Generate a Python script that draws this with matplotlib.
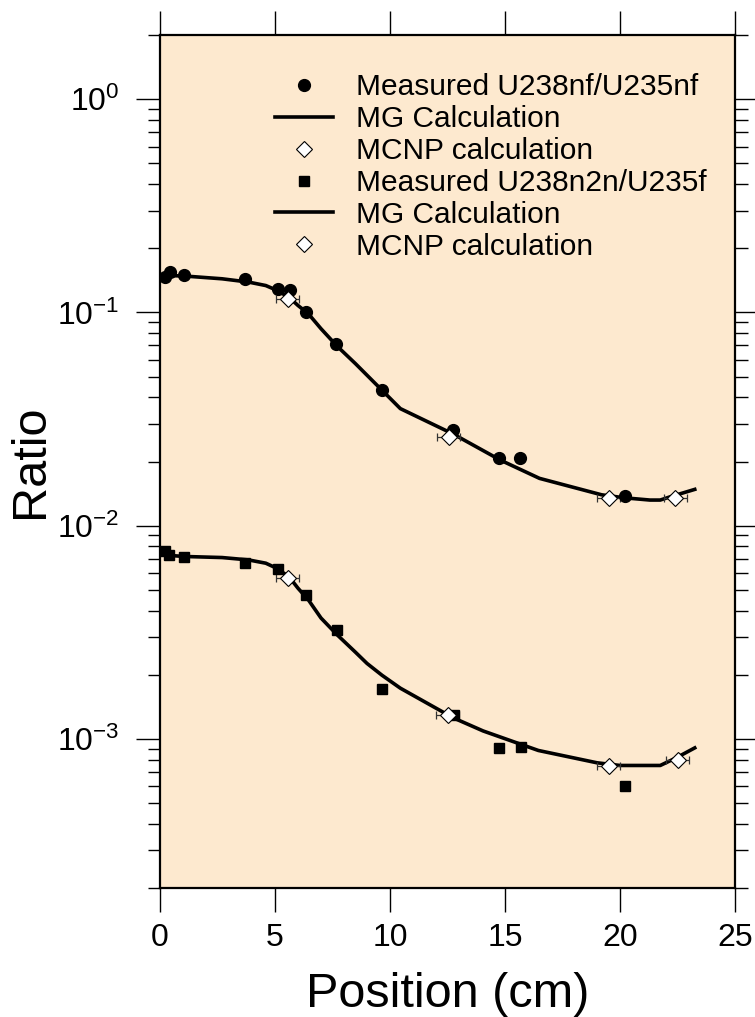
import matplotlib
matplotlib.use("Agg")
import matplotlib.pyplot as plt
from matplotlib.ticker import LogLocator, LogFormatterSciNotation, NullFormatter

# ---- data ----
pos_nf = [0.2, 0.45, 1.05, 3.7, 5.15, 5.65, 6.35, 7.65, 9.65, 12.75, 14.75, 15.65, 20.2]
meas_nf = [0.147, 0.154, 0.150, 0.143, 0.129, 0.128, 0.101, 0.0709, 0.0431, 0.0280, 0.0207, 0.0207, 0.0138]

mg_x_nf = [0, 1.1, 2.7, 3.85, 4.6, 5.0, 5.6, 6.0, 6.45, 7.0, 7.7, 8.5, 9.65, 10.45,
           12.75, 14.8, 16.5, 19.2, 20.2, 21.3, 21.75, 22.2, 23.25]
mg_nf = [0.1494, 0.1481, 0.1438, 0.1388, 0.1337, 0.1281, 0.118, 0.1078, 0.0986, 0.0839,
         0.0695, 0.0575, 0.0432, 0.0354, 0.0269, 0.0203, 0.01667, 0.01396, 0.01351,
         0.01319, 0.01319, 0.01368, 0.0148]

mcnp_x_nf = [5.55, 12.55, 19.5, 22.4]
mcnp_nf = [0.116, 0.0261, 0.01343, 0.01343]

pos_n2n = [0.2, 0.4, 1.05, 3.7, 5.15, 6.35, 7.7, 9.65, 12.8, 14.75, 15.7, 20.2]
meas_n2n = [0.0076, 0.0073, 0.0071, 0.00667, 0.00627, 0.00474, 0.00323, 0.00171,
            0.00129, 0.000908, 0.000916, 0.000601]

mg_x_n2n = [0, 1.1, 2.7, 3.85, 4.6, 5.0, 5.6, 6.0, 6.45, 7.0, 7.7, 8.5, 9.0, 9.65, 10.45,
            12.75, 14.05, 16.45, 19.0, 20.0, 21.75, 22.45, 23.25]
mg_n2n = [0.00730, 0.00717, 0.00709, 0.00691, 0.00667, 0.00637, 0.00578, 0.00509, 0.00449,
          0.00369, 0.00308, 0.00255, 0.00226, 0.00199, 0.00173, 0.001256, 0.00109,
          0.000883, 0.000773, 0.000751, 0.000751, 0.000816, 0.000908]

mcnp_x_n2n = [5.55, 12.5, 19.5, 22.5]
mcnp_n2n = [0.00571, 0.00129, 0.000746, 0.000793]
mcnp_xerr = 0.5

x_ticks = [0, 5, 10, 15, 20, 25]

# ---- style ----
plt.rcParams['font.family'] = ['Liberation Sans', 'DejaVu Sans']
plt.rcParams['mathtext.fontset'] = 'custom'
plt.rcParams['mathtext.rm'] = 'Liberation Sans'
plt.rcParams['mathtext.it'] = 'Liberation Sans'
plt.rcParams['mathtext.bf'] = 'Liberation Sans'
plt.rcParams['axes.unicode_minus'] = False

fig = plt.figure(figsize=(7.55, 10.17), dpi=100)
ax = fig.add_axes([160/755, 1-888/1017, 575/755, 853/1017])
ax.set_facecolor('#fde9cf')

lw = 2.6
ax.errorbar(mcnp_x_nf, mcnp_nf, xerr=mcnp_xerr, fmt='none', ecolor='#333333',
            elinewidth=0.9, capsize=3, capthick=0.9, zorder=3)
ax.errorbar(mcnp_x_n2n, mcnp_n2n, xerr=mcnp_xerr, fmt='none', ecolor='#333333',
            elinewidth=0.9, capsize=3, capthick=0.9, zorder=3)

h1, = ax.plot(pos_nf, meas_nf, 'o', color='black', markersize=8.5, linestyle='none',
              label='Measured U238nf/U235nf', zorder=4)
h2, = ax.plot(mg_x_nf, mg_nf, '-', color='black', lw=lw, label='MG Calculation', zorder=2)
h3, = ax.plot(mcnp_x_nf, mcnp_nf, 'D', markerfacecolor='white', markeredgecolor='black',
              markeredgewidth=0.8, markersize=8, linestyle='none',
              label='MCNP calculation', zorder=5)
h4, = ax.plot(pos_n2n, meas_n2n, 's', color='black', markersize=7.5, linestyle='none',
              label='Measured U238n2n/U235f', zorder=4)
h5, = ax.plot(mg_x_n2n, mg_n2n, '-', color='black', lw=lw, label='MG Calculation', zorder=2)
h6, = ax.plot(mcnp_x_n2n, mcnp_n2n, 'D', markerfacecolor='white', markeredgecolor='black',
              markeredgewidth=0.8, markersize=8, linestyle='none',
              label='MCNP calculation', zorder=5)

ax.set_xlim(0, 25)
ax.set_yscale('log')
ax.set_ylim(2e-4, 2)
ax.set_xticks(x_ticks)
ax.set_xticklabels([str(t) for t in x_ticks])
ax.yaxis.set_major_locator(LogLocator(base=10, numticks=10))
ax.yaxis.set_minor_locator(LogLocator(base=10, subs=range(2, 10), numticks=20))
ax.yaxis.set_major_formatter(LogFormatterSciNotation())
ax.yaxis.set_minor_formatter(NullFormatter())

ax.tick_params(axis='both', which='major', direction='out', length=17, width=1.0,
               labelsize=23, top=True, right=True, pad=8)
ax.tick_params(axis='y', which='major', pad=12)
ax.tick_params(axis='y', which='minor', direction='out', length=9, width=1.0,
               left=True, right=True)
for s in ax.spines.values():
    s.set_linewidth(1.6)

ax.set_xlabel('Position (cm)', fontsize=35, labelpad=14)
ax.set_ylabel('Ratio', fontsize=35, labelpad=3)

leg = ax.legend(handles=[h1, h2, h3, h4, h5, h6], loc='upper left',
                bbox_to_anchor=(0.2, 0.955), frameon=False, fontsize=21.5,
                handlelength=1.95, handletextpad=0.75, labelspacing=0.13,
                borderpad=0, borderaxespad=0)

fig.savefig('out.png', dpi=100, facecolor='white')
